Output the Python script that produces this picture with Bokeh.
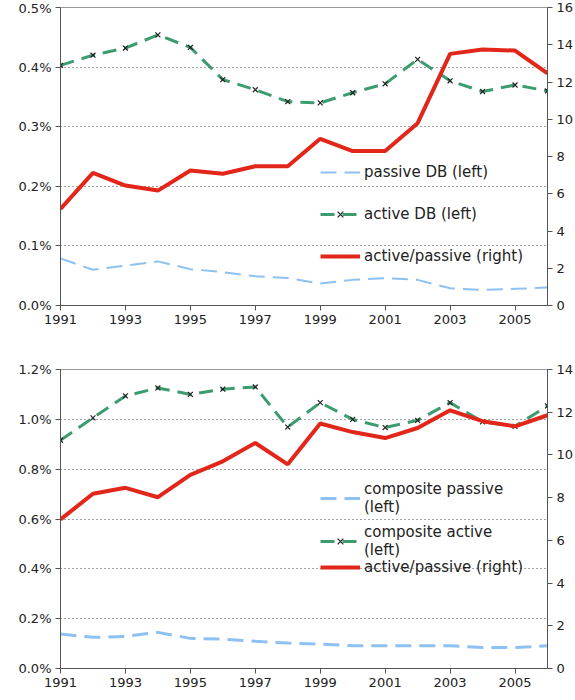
from bokeh.plotting import figure
from bokeh.models import (LinearAxis, Range1d, FixedTicker, PrintfTickFormatter,
                          Legend, LegendItem)
from bokeh.layouts import column
from bokeh.embed import file_html
from bokeh.resources import INLINE

years = list(range(1991, 2007))

# Top panel (DB)
passive_db = [0.079, 0.060, 0.067, 0.074, 0.061, 0.056, 0.049, 0.046,
              0.037, 0.043, 0.046, 0.043, 0.029, 0.026, 0.028, 0.030]
active_db = [0.403, 0.420, 0.432, 0.454, 0.433, 0.379, 0.362, 0.342,
             0.340, 0.357, 0.372, 0.413, 0.377, 0.359, 0.370, 0.360]
ratio_db = [5.19, 7.12, 6.44, 6.17, 7.25, 7.07, 7.48, 7.48,
            8.95, 8.29, 8.29, 9.79, 13.51, 13.74, 13.69, 12.47]

# Bottom panel (composite)
comp_passive = [0.138, 0.125, 0.129, 0.145, 0.121, 0.118, 0.109, 0.102,
                0.098, 0.091, 0.091, 0.091, 0.091, 0.084, 0.084, 0.091]
comp_active = [0.916, 1.006, 1.094, 1.126, 1.100, 1.121, 1.130, 0.969,
               1.067, 1.000, 0.967, 0.996, 1.067, 0.990, 0.972, 1.054]
ratio_comp = [6.98, 8.18, 8.46, 8.02, 9.07, 9.70, 10.56, 9.56,
              11.47, 11.07, 10.79, 11.26, 12.09, 11.58, 11.34, 11.86]

x_ticks = [1991, 1993, 1995, 1997, 1999, 2001, 2003, 2005]

FONT = "DejaVu Sans"
BLUE = "#8cc1f2"
GREEN = "#3d9c6f"
RED = "#e2261a"
AXIS = "#555555"


def style_axis(ax):
    ax.major_label_text_font = FONT
    ax.major_label_text_font_size = "13px"
    ax.major_label_text_color = "#222222"
    ax.axis_line_color = AXIS
    ax.major_tick_line_color = AXIS
    ax.major_tick_out = 5
    ax.major_tick_in = 0
    ax.minor_tick_line_color = None
    ax.major_label_standoff = 4


def style_legend(legend, spacing):
    legend.background_fill_alpha = 0
    legend.border_line_color = None
    legend.padding = 0
    legend.margin = 0
    legend.spacing = spacing
    legend.glyph_width = 40
    legend.glyph_height = 20
    legend.label_height = 20
    legend.label_standoff = 4
    legend.label_text_font = FONT
    legend.label_text_font_size = "15px"
    legend.label_text_color = "#222222"


def make_panel(passive, active, ratio, left_max, left_step, right_max,
               labels, frame_h, top, bottom, legend_locs, pass_w):
    p = figure(frame_width=487, frame_height=frame_h,
               x_range=Range1d(1991, 2006), y_range=Range1d(0, left_max),
               output_backend="svg", toolbar_location=None,
               min_border_left=60, min_border_right=25,
               min_border_top=top, min_border_bottom=bottom)
    p.extra_y_ranges = {"right": Range1d(0, right_max)}
    p.background_fill_color = "white"
    p.border_fill_color = "white"
    p.outline_line_color = "#999999"

    nleft = int(round(left_max / left_step))
    lticks = [round(i * left_step, 3) for i in range(nleft + 1)]
    p.yaxis.ticker = FixedTicker(ticks=lticks)
    p.yaxis.formatter = PrintfTickFormatter(format="%.1f%%")
    p.xaxis.ticker = FixedTicker(ticks=x_ticks)
    style_axis(p.xaxis[0])
    style_axis(p.yaxis[0])

    rax = LinearAxis(y_range_name="right",
                     ticker=FixedTicker(ticks=list(range(0, right_max + 1, 2))))
    style_axis(rax)
    p.add_layout(rax, "right")

    p.xgrid.grid_line_color = None
    p.ygrid.grid_line_color = "#444444"
    p.ygrid.grid_line_dash = "1 3"
    p.ygrid.grid_line_width = 1

    r_pass = p.line(years, passive, line_color=BLUE, line_width=pass_w,
                    line_dash="16 8")
    r_act = p.line(years, active, line_color=GREEN, line_width=3,
                   line_dash="14 8")
    r_actm = p.scatter(years, active, marker="x", size=7,
                       line_color="#222222", line_width=1.2)
    r_ratio = p.line(years, ratio, line_color=RED, line_width=4,
                     y_range_name="right")

    items = [
        LegendItem(label=labels[0], renderers=[r_pass]),
        LegendItem(label=labels[1], renderers=[r_act, r_actm]),
        LegendItem(label=labels[2], renderers=[r_ratio]),
    ]
    if len(legend_locs) == 1:
        legend = Legend(items=items, location=legend_locs[0])
        style_legend(legend, 22)
        p.add_layout(legend, "center")
    else:
        for item, loc in zip(items, legend_locs):
            legend = Legend(items=[item], location=loc)
            style_legend(legend, 0)
            p.add_layout(legend, "center")
    return p


top_panel = make_panel(passive_db, active_db, ratio_db, 0.5, 0.1, 16,
                       ["passive DB (left)", "active DB (left)",
                        "active/passive (right)"],
                       298, 7, 34, [(260, 39)], 2)
bottom_panel = make_panel(comp_passive, comp_active, ratio_comp, 1.2, 0.2, 14,
                          ["composite passive\n(left)",
                           "composite active\n(left)",
                           "active/passive (right)"],
                          299, 30, 25, [(260, 152), (260, 109), (260, 91)], 3)

layout = column(top_panel, bottom_panel, spacing=0)
open("out.html", "w").write(file_html(layout, INLINE))
